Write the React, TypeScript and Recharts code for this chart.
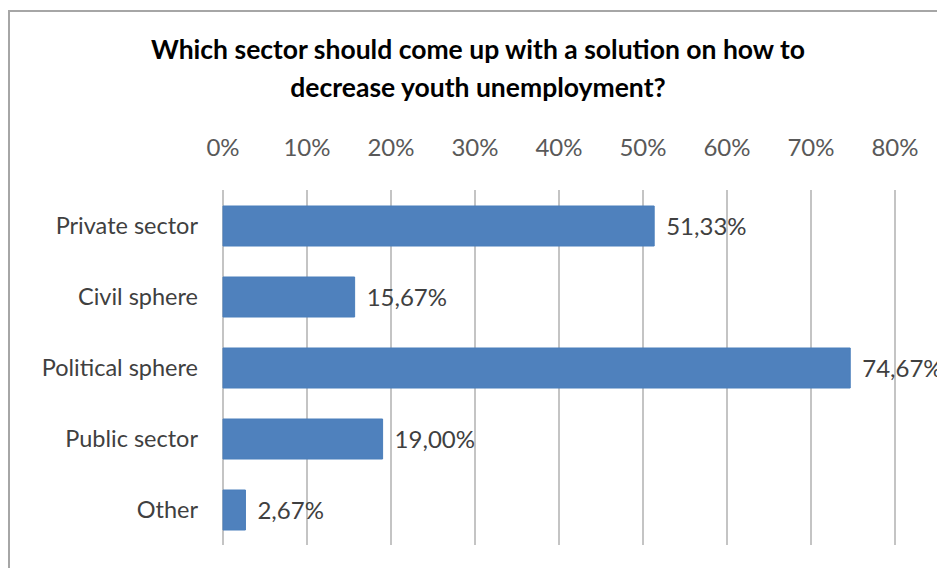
import React from 'react';
import { BarChart, Bar, XAxis, YAxis, CartesianGrid, LabelList } from 'recharts';

// Survey answers (share of respondents, %)
const sectors = ['Private sector', 'Civil sphere', 'Political sphere', 'Public sector', 'Other'];
const shares = [51.33, 15.67, 74.67, 19.0, 2.67];
const axisTicks = [0, 10, 20, 30, 40, 50, 60, 70, 80];
const titleLines = [
  'Which sector should come up with a solution on how to',
  'decrease youth unemployment?',
];

const data = sectors.map((name, i) => ({ name, value: shares[i] }));

const FONT = 'Lato, "Open Sans", sans-serif';

const App: React.FC = () => {
  return (
    <div style={{ position: 'absolute', left: 0, top: 0, width: 937, height: 568, overflow: 'hidden', background: '#fff' }}>
      {/* chart frame, only left and top edges are visible */}
      <div
        style={{
          position: 'absolute',
          left: 8,
          top: 10,
          width: 960,
          height: 600,
          borderLeft: '2px solid #a6a6a6',
          borderTop: '2px solid #a6a6a6',
        }}
      />
      <div style={{ position: 'absolute', left: 0, top: 0, width: 956, textAlign: 'center', fontFamily: FONT, fontWeight: 700, fontSize: 26.5, color: '#000', lineHeight: '38px', paddingTop: 30 }}>
        {titleLines.map((t) => (
          <div key={t}>{t}</div>
        ))}
      </div>
      <div style={{ position: 'absolute', left: 0, top: 0 }}>
        <BarChart
          width={937}
          height={568}
          data={data}
          layout="vertical"
          margin={{ top: 130, right: 42, bottom: 23, left: 0 }}
          barCategoryGap={0}
        >
          <CartesianGrid horizontal={false} stroke="#c4c4c4" strokeWidth={2} />
          <XAxis
            type="number"
            orientation="top"
            domain={[0, 80]}
            ticks={axisTicks}
            tickFormatter={(v) => `${v}%`}
            height={60}
            axisLine={false}
            tickLine={false}
            tickSize={0}
            tickMargin={34}
            tick={{ fill: '#595959', fontSize: 24, fontFamily: FONT }}
          />
          <YAxis
            type="category"
            dataKey="name"
            width={223}
            axisLine={false}
            tickLine={false}
            tickSize={0}
            tickMargin={25}
            tick={{ fill: '#404040', fontSize: 23.5, fontFamily: FONT }}
          />
          <Bar dataKey="value" fill="#4f81bd" stroke="#4a7ebb" barSize={40} isAnimationActive={false}>
            <LabelList
              dataKey="value"
              position="right"
              offset={12}
              formatter={(v: number) => `${v.toFixed(2).replace('.', ',')}%`}
              style={{ fill: '#404040', fontSize: 24, fontFamily: FONT }}
            />
          </Bar>
        </BarChart>
      </div>
    </div>
  );
};

export default App;
